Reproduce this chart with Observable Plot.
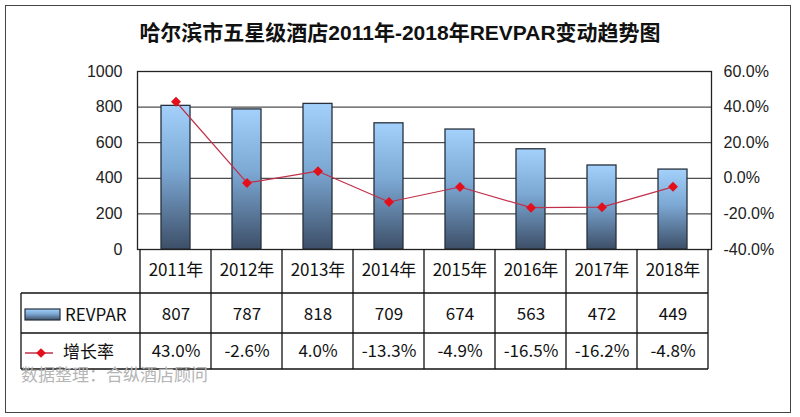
<!DOCTYPE html>
<html><head><meta charset="utf-8">
<script src="https://cdn.jsdelivr.net/npm/d3@7"></script>
<script src="https://cdn.jsdelivr.net/npm/@observablehq/plot@0.6"></script>
<style>
html,body{margin:0;padding:0;background:#fff;}
#wrap{position:relative;width:800px;height:417px;overflow:hidden;background:#fff;}
#chart{position:absolute;left:0;top:0;}
#border{position:absolute;left:5px;top:5px;width:786px;height:408px;border:1.5px solid #444;box-sizing:border-box;pointer-events:none;}
#title{position:absolute;left:0;top:16px;width:800px;text-align:center;font:bold 21px "Liberation Sans","Noto Sans CJK SC",sans-serif;color:#111;white-space:nowrap;}
#caption{position:absolute;left:21px;top:366px;font:17px/16px "Noto Sans CJK SC",sans-serif;color:#b5b5b5;white-space:nowrap;}
</style></head><body>
<div id="wrap">
  <div id="chart"></div>
  <div id="border"></div>
  <div id="title">哈尔滨市五星级酒店2011年-2018年REVPAR变动趋势图</div>
  <div id="caption">数据整理：合纵酒店顾问</div>
</div>
<script>
const years = ["2011年","2012年","2013年","2014年","2015年","2016年","2017年","2018年"];
const revpar = [807, 787, 818, 709, 674, 563, 472, 449];
const growth = [43.0, -2.6, 4.0, -13.3, -4.9, -16.5, -16.2, -4.8];
const leftTicks = [0, 200, 400, 600, 800, 1000];
const rightTickLabels = ["-40.0%", "-20.0%", "0.0%", "20.0%", "40.0%", "60.0%"];
const seriesNames = ["REVPAR", "增长率"];

const data = years.map((year, i) => ({year, revpar: revpar[i], growth: growth[i]}));
// right axis [-40%, 60%] shares the left axis range [0, 1000]
const toY = g => (g + 40) * 10;

const tableFont = "Noto Sans CJK SC, sans-serif";
const chart = Plot.plot({
  width: 800, height: 417,
  marginLeft: 137, marginRight: 89, marginTop: 71, marginBottom: 168,
  x: {domain: years, padding: 0, axis: null},
  y: {domain: [0, 1000], axis: null},
  style: {fontFamily: "Liberation Sans, Arial, sans-serif", fontSize: "16px", background: "transparent", overflow: "visible", color: "#222"},
  marks: [
    Plot.ruleY(leftTicks, {stroke: "#222", strokeWidth: 1}),
    Plot.barY(data, {x: "year", y: "revpar", fill: "url(#barGrad)", stroke: "#27303c", strokeWidth: 1.3, insetLeft: 21, insetRight: 21}),
    Plot.line(data, {x: "year", y: d => toY(d.growth), stroke: "#c0304a", strokeWidth: 1.2}),
    Plot.dot(data, {x: "year", y: d => toY(d.growth), symbol: "diamond2", r: 4.5, fill: "#e3101c", stroke: "none"}),
    Plot.frame({stroke: "#222", strokeWidth: 1.3}),
    Plot.axisY(leftTicks, {anchor: "left", label: null, tickSize: 0, tickPadding: 15, fontSize: 16, fill: "#222",
      tickFormat: v => String(v)}),
    Plot.axisY(leftTicks, {anchor: "right", label: null, tickSize: 0, tickPadding: 12, fontSize: 16, fill: "#222",
      tickFormat: v => rightTickLabels[leftTicks.indexOf(v)]}),
    Plot.text(data, {x: "year", text: "year", frameAnchor: "bottom", lineAnchor: "middle", dy: 21, fontSize: 17, fontFamily: tableFont, fill: "#111"}),
    Plot.text(data, {x: "year", text: d => String(d.revpar), frameAnchor: "bottom", lineAnchor: "middle", dy: 65, fontSize: 17, fontFamily: tableFont, fill: "#111"}),
    Plot.text(data, {x: "year", text: d => d.growth.toFixed(1) + "%", frameAnchor: "bottom", lineAnchor: "middle", dy: 102, fontSize: 17, fontFamily: tableFont, fill: "#111"})
  ]
});
document.getElementById("chart").appendChild(chart);

// gradient for bars
const svg = d3.select(chart);
const defs = svg.insert("defs", ":first-child");
const grad = defs.append("linearGradient").attr("id", "barGrad").attr("x1", 0).attr("y1", 0).attr("x2", 0).attr("y2", 1);
grad.append("stop").attr("offset", "0%").attr("stop-color", "#a3d1fb");
grad.append("stop").attr("offset", "45%").attr("stop-color", "#7ca8d4");
grad.append("stop").attr("offset", "100%").attr("stop-color", "#3d4f68");

// data table grid, positioned from the chart's own scales
const xs = chart.scale("x"), ys = chart.scale("y");
const base = ys.apply(0);
const rowBottoms = [base + 44, base + 84, base + 120];
const xEnd = xs.apply(years[years.length - 1]) + xs.bandwidth;
const legendLeft = 21;
const g = svg.append("g").attr("stroke", "#111").attr("stroke-width", 1.3).attr("fill", "none");
years.forEach(y => {
  const x = xs.apply(y);
  g.append("line").attr("x1", x).attr("x2", x).attr("y1", base).attr("y2", rowBottoms[2]);
});
g.append("line").attr("x1", xEnd).attr("x2", xEnd).attr("y1", base).attr("y2", rowBottoms[2]);
g.append("line").attr("x1", legendLeft).attr("x2", legendLeft).attr("y1", rowBottoms[0]).attr("y2", rowBottoms[2]);
rowBottoms.forEach(yy => {
  g.append("line").attr("x1", legendLeft).attr("x2", xEnd).attr("y1", yy).attr("y2", yy);
});

// legend keys in the table's first column
const lg = svg.append("g").attr("text-anchor", "start");
const r1 = (rowBottoms[0] + rowBottoms[1]) / 2 + 2, r2 = (rowBottoms[1] + rowBottoms[2]) / 2 + 1;
lg.append("rect").attr("x", 25).attr("y", r1 - 6).attr("width", 35).attr("height", 11)
  .attr("fill", "url(#barGrad)").attr("stroke", "#27303c").attr("stroke-width", 1.2);
lg.append("text").attr("x", 65).attr("y", r1).attr("dy", "0.35em").attr("font-size", 17)
  .attr("text-anchor", "start").attr("font-family", tableFont).attr("fill", "#111").text(seriesNames[0]);
lg.append("line").attr("x1", 25).attr("x2", 53).attr("y1", r2 + 1).attr("y2", r2 + 1).attr("stroke", "#c0304a").attr("stroke-width", 1.5);
lg.append("path").attr("d", d3.symbol(d3.symbolDiamond2, 60)()).attr("transform", `translate(41,${r2 + 1})`).attr("fill", "#e3101c");
lg.append("text").attr("x", 63).attr("y", r2).attr("dy", "0.35em").attr("font-size", 17)
  .attr("text-anchor", "start").attr("font-family", tableFont).attr("fill", "#111").text(seriesNames[1]);
</script>
</body></html>
